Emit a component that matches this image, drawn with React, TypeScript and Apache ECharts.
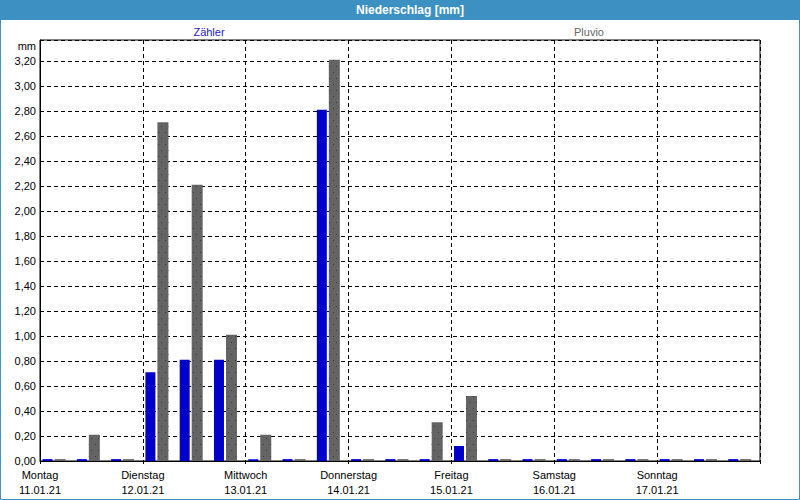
import React, { useEffect, useRef } from "react";
import * as echarts from "echarts";

const titleText = "Niederschlag [mm]";
const seriesNames = ["Zähler", "Pluvio"];
const dayNames = ["Montag", "Dienstag", "Mittwoch", "Donnerstag", "Freitag", "Samstag", "Sonntag"];
const dates = ["11.01.21", "12.01.21", "13.01.21", "14.01.21", "15.01.21", "16.01.21", "17.01.21"];
const periods = [
  "11.01 00-08", "11.01 08-16", "11.01 16-24",
  "12.01 00-08", "12.01 08-16", "12.01 16-24",
  "13.01 00-08", "13.01 08-16", "13.01 16-24",
  "14.01 00-08", "14.01 08-16", "14.01 16-24",
  "15.01 00-08", "15.01 08-16", "15.01 16-24",
  "16.01 00-08", "16.01 08-16", "16.01 16-24",
  "17.01 00-08", "17.01 08-16", "17.01 16-24",
];
const zaehler = [
  0.015, 0.015, 0.015,
  0.71, 0.81, 0.81,
  0.015, 0.015, 2.81,
  0.015, 0.015, 0.015,
  0.12, 0.015, 0.015,
  0.015, 0.015, 0.015,
  0.015, 0.015, 0.015,
];
const pluvio = [
  0.015, 0.21, 0.015,
  2.71, 2.21, 1.01,
  0.21, 0.015, 3.21,
  0.015, 0.015, 0.31,
  0.52, 0.015, 0.015,
  0.015, 0.015, 0.015,
  0.015, 0.015, 0.015,
];
const spacer = periods.map(() => 0);

const FONT = "'Liberation Sans', Arial, sans-serif";
const FRAME_BLUE = "#3d91c2";

export default function App() {
  const ref = useRef<HTMLDivElement>(null);
  useEffect(() => {
    document.body.style.margin = "0";
    if (!ref.current) return;
    const chart = echarts.init(ref.current, undefined, { renderer: "svg" });
    const dash = [4, 3];
    chart.setOption({
      animation: false,
      backgroundColor: "#ffffff",
      textStyle: { fontFamily: FONT },
      grid: {
        left: 40,
        top: 40,
        width: 720,
        height: 421,
        show: true,
        borderColor: "#000",
        borderWidth: 1,
        backgroundColor: "#fff",
        z: 0,
      },
      xAxis: [
        {
          type: "category",
          data: periods,
          show: false,
        },
        {
          type: "value",
          min: 0,
          max: 7,
          interval: 1,
          position: "bottom",
          axisLine: { show: true, lineStyle: { color: "#000", width: 1 } },
          axisTick: { show: true, length: 3, lineStyle: { color: "#000", type: dash } },
          splitLine: { show: true, lineStyle: { color: "#000", type: dash, width: 1 } },
          axisLabel: {
            show: true,
            margin: 6,
            color: "#000",
            fontSize: 11,
            fontFamily: FONT,
            lineHeight: 15,
            showMinLabel: true,
            showMaxLabel: true,
            formatter: (v: number) => (v < 7 ? `${dayNames[v]}\n${dates[v]}` : ""),
          },
        },
      ],
      yAxis: {
        type: "value",
        min: 0,
        max: 3.368,
        interval: 0.2,
        axisLine: { show: true, lineStyle: { color: "#000" } },
        axisTick: { show: false },
        splitLine: { show: true, lineStyle: { color: "#000", type: dash, width: 1 } },
        axisLabel: {
          margin: 4,
          color: "#000",
          fontSize: 11,
          fontFamily: FONT,
          formatter: (v: number) => (v > 3.3 ? "" : v.toFixed(2).replace(".", ",")),
        },
      },
      series: [
        {
          name: seriesNames[0],
          type: "bar",
          xAxisIndex: 0,
          data: zaehler,
          barWidth: 10,
          barGap: "20%",
          itemStyle: { color: "#0000c8" },
          z: 3,
        },
        {
          name: seriesNames[1],
          type: "bar",
          xAxisIndex: 0,
          data: pluvio,
          barWidth: 11,
          barGap: "20%",
          itemStyle: {
            color: "#646464",
            decal: {
              symbol: "rect",
              symbolSize: 1,
              color: "#3c3c3c",
              dashArrayX: [[1, 6], [0, 4, 1, 2]],
              dashArrayY: [1, 5],
              rotation: 0,
            },
          },
          z: 3,
        },
        {
          name: "spacer",
          type: "bar",
          xAxisIndex: 0,
          data: spacer,
          barWidth: 4,
          barGap: "20%",
          itemStyle: { color: "rgba(0,0,0,0)" },
          silent: true,
        },
      ],
      graphic: [
        {
          type: "rect",
          left: 0,
          top: 0,
          shape: { x: 0, y: 0, width: 800, height: 20 },
          style: { fill: FRAME_BLUE },
          z: 10,
        },
        {
          type: "rect",
          shape: { x: 0.5, y: 0.5, width: 799, height: 499 },
          style: { fill: "none", stroke: FRAME_BLUE, lineWidth: 1 },
          z: 10,
          silent: true,
        },
        {
          type: "text",
          x: 410,
          y: 10,
          style: {
            text: titleText,
            fill: "#fff",
            font: `bold 12px ${FONT}`,
            align: "center",
            verticalAlign: "middle",
          },
          z: 11,
        },
        {
          type: "text",
          x: 209,
          y: 32,
          style: {
            text: seriesNames[0],
            fill: "#2020d8",
            font: `11px ${FONT}`,
            align: "center",
            verticalAlign: "middle",
          },
        },
        {
          type: "text",
          x: 589,
          y: 32,
          style: {
            text: seriesNames[1],
            fill: "#666666",
            font: `11px ${FONT}`,
            align: "center",
            verticalAlign: "middle",
          },
        },
        {
          type: "text",
          x: 36,
          y: 46,
          style: {
            text: "mm",
            fill: "#000",
            font: `11px ${FONT}`,
            align: "right",
            verticalAlign: "middle",
          },
        },
      ],
    });
    return () => chart.dispose();
  }, []);
  return <div ref={ref} style={{ width: 800, height: 500 }} />;
}
